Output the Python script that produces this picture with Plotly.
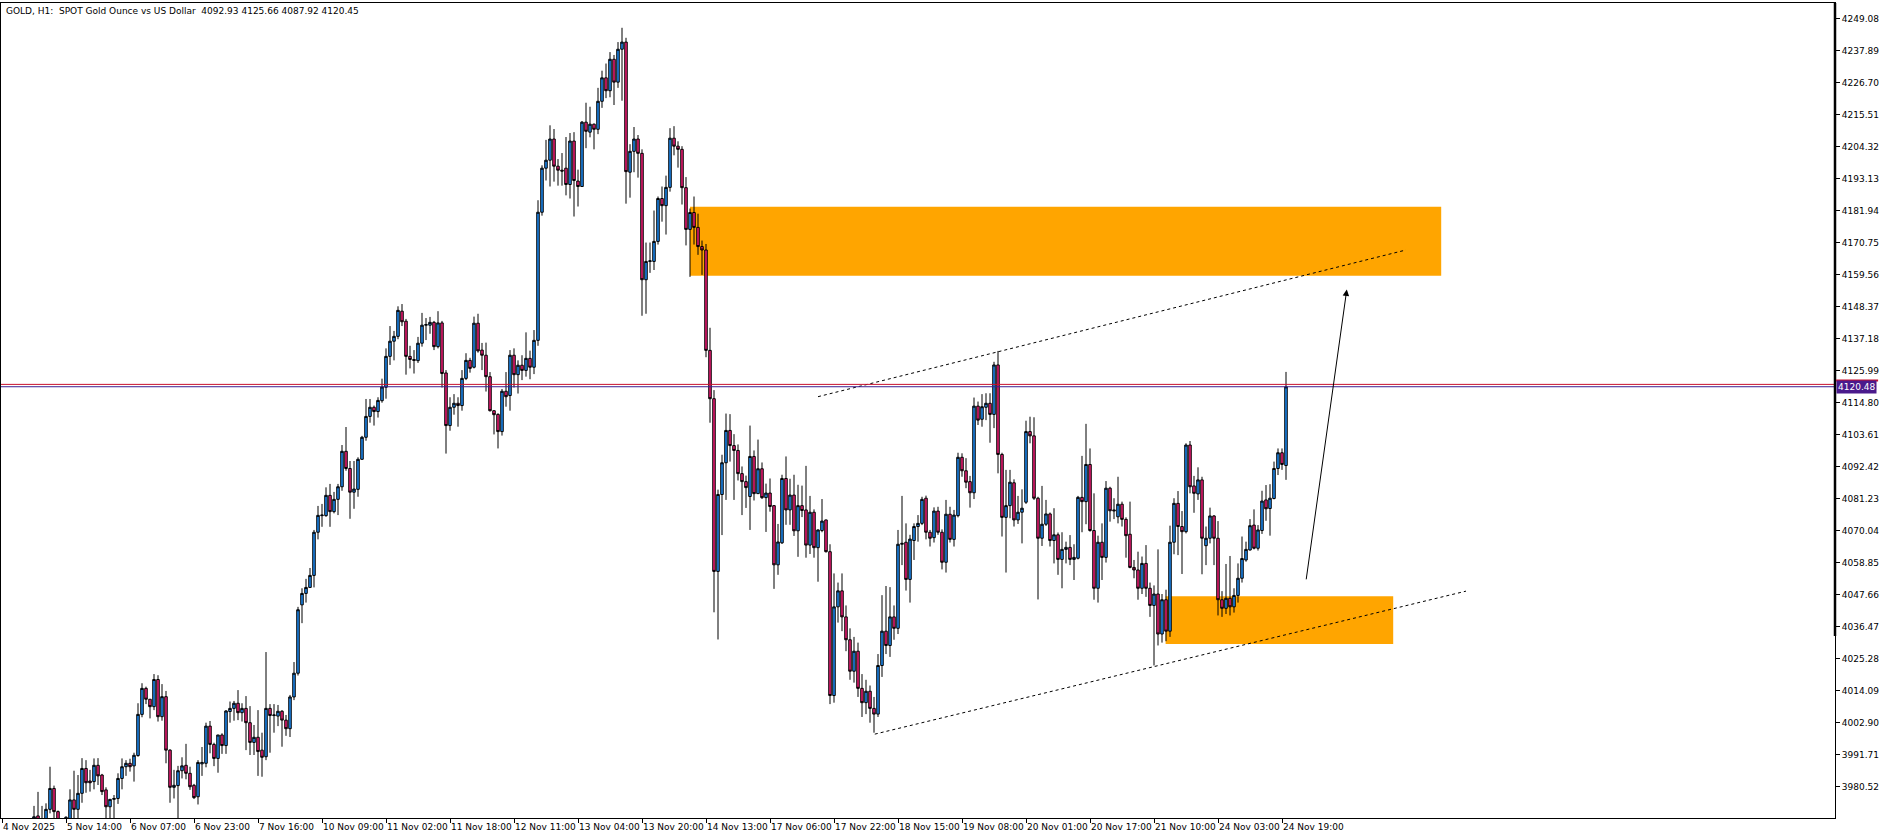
import plotly.graph_objects as go
from datetime import datetime, timedelta

# ---------------- data ----------------
SYMBOL_TITLE = "GOLD, H1:  SPOT Gold Ounce vs US Dollar  4092.93 4125.66 4087.92 4120.45"
FIRST_BAR_TIME = "2025-11-04 21:00"   # first bar on the chart (bar index 0)
FIRST_DATA_BAR = 8                    # first bar whose candle is visible

opens = [
    3966.0, 3970.4, 3966.0, 3964.0, 3972.7, 3980.0, 3971.9, 3966.0, 3962.0, 3968.0,
    3976.0, 3972.7, 3978.3, 3987.0, 3982.6, 3982.4, 3988.1, 3984.7, 3979.5, 3973.6,
    3976.2, 3976.5, 3983.5, 3987.6, 3988.8, 3987.9, 3991.5, 4005.9, 4015.0, 4011.2,
    4008.6, 4018.1, 4005.1, 4012.1, 3993.4, 3980.4, 3981.0, 3986.2, 3988.1, 3985.3,
    3981.1, 3977.1, 3988.6, 3988.8, 4001.8, 3995.4, 3990.5, 3998.7, 3995.0, 4006.9,
    4008.0, 4009.8, 4006.5, 4008.0, 4003.0, 3996.1, 3997.9, 3993.4, 3991.1, 4008.0,
    4005.5, 4005.3, 4007.0, 4003.9, 4000.9, 4012.0, 4020.3, 4044.2, 4048.2, 4050.3,
    4054.5, 4069.6, 4075.4, 4075.4, 4082.5, 4076.8, 4081.1, 4085.5, 4097.9, 4091.9,
    4083.6, 4084.6, 4095.1, 4102.8, 4110.1, 4113.3, 4111.8, 4115.6, 4120.3, 4131.1,
    4136.4, 4138.1, 4146.9, 4143.4, 4131.1, 4130.0, 4129.6, 4135.7, 4142.0, 4142.0,
    4143.0, 4134.5, 4142.8, 4125.3, 4106.9, 4113.3, 4114.7, 4113.9, 4123.4, 4129.7,
    4127.3, 4142.7, 4133.3, 4131.5, 4124.0, 4112.1, 4110.8, 4104.8, 4118.9, 4117.4,
    4131.5, 4124.7, 4128.0, 4126.2, 4130.4, 4127.3, 4136.7, 4181.5, 4196.9, 4199.7,
    4207.1, 4197.6, 4196.2, 4196.9, 4191.2, 4206.4, 4192.4, 4190.5, 4213.0, 4209.5,
    4212.3, 4210.5, 4220.3, 4228.5, 4224.0, 4235.0, 4227.0, 4238.5, 4241.0, 4195.5,
    4202.8, 4207.1, 4202.1, 4157.9, 4164.3, 4164.3, 4171.3, 4186.3, 4183.8, 4190.2,
    4207.4, 4204.6, 4203.5, 4190.1, 4175.5, 4181.4, 4176.2, 4169.5, 4168.3, 4133.2,
    4116.3, 4055.9, 4082.8, 4093.9, 4105.2, 4099.9, 4098.2, 4090.1, 4087.3, 4082.1,
    4096.1, 4083.1, 4091.8, 4081.7, 4083.3, 4078.9, 4058.2, 4065.9, 4088.4, 4077.4,
    4082.6, 4070.1, 4078.9, 4077.4, 4065.1, 4076.6, 4064.2, 4070.2, 4073.9, 4062.8,
    4012.5, 4043.5, 4049.1, 4040.0, 4032.0, 4021.0, 4028.0, 4015.0, 4010.0, 4014.0,
    4008.0, 4006.0, 4023.0, 4035.0, 4030.0, 4040.0, 4036.0, 4065.4, 4066.1, 4053.1,
    4066.7, 4071.6, 4072.7, 4081.5, 4069.6, 4067.7, 4077.0, 4069.6, 4059.1, 4075.9,
    4067.1, 4075.4, 4095.8, 4091.1, 4087.3, 4083.4, 4113.7, 4109.1, 4113.3, 4114.7,
    4110.8, 4128.1, 4096.8, 4074.8, 4078.9, 4086.9, 4073.9, 4076.6, 4080.1, 4104.8,
    4103.3, 4081.5, 4067.5, 4072.4, 4076.0, 4066.7, 4068.7, 4060.1, 4063.6, 4064.3,
    4060.1, 4060.5, 4081.8, 4080.3, 4093.3, 4070.2, 4050.0, 4066.1, 4060.8, 4085.0,
    4077.4, 4075.0, 4079.4, 4074.1, 4068.9, 4057.3, 4056.4, 4050.0, 4058.7, 4050.0,
    4044.0, 4048.0, 4034.0, 4046.0, 4035.0, 4066.1, 4079.7, 4071.6, 4069.8, 4100.1,
    4085.8, 4083.0, 4087.9, 4064.9, 4067.5, 4075.3, 4067.5, 4046.0, 4043.0, 4046.5,
    4043.5, 4047.5, 4053.5, 4059.9, 4063.4, 4072.1, 4064.0, 4070.2, 4080.9, 4077.9,
    4081.4, 4091.9, 4097.4, 4092.93,
]

highs = [
    3973.9, 3978.8, 3973.9, 3974.8, 3987.6, 3981.0, 3972.3, 3967.0, 3970.3, 3979.7,
    3986.2, 3984.7, 3990.6, 3989.9, 3986.5, 3990.5, 3990.6, 3985.1, 3980.4, 3976.2,
    3977.7, 3985.3, 3990.5, 3989.9, 3990.4, 3992.5, 4009.8, 4016.8, 4015.6, 4011.2,
    4020.0, 4019.6, 4016.5, 4014.1, 3993.7, 3986.5, 3987.9, 3990.9, 3995.6, 3987.6,
    3981.6, 3989.9, 3994.5, 4003.0, 4003.6, 3996.0, 3998.7, 3999.3, 4007.4, 4010.4,
    4010.6, 4014.4, 4009.8, 4012.3, 4008.8, 4002.2, 4007.4, 3999.5, 4027.7, 4009.5,
    4009.5, 4009.2, 4007.4, 4005.7, 4012.7, 4024.2, 4043.5, 4050.0, 4053.3, 4057.1,
    4070.4, 4078.8, 4079.5, 4085.3, 4086.5, 4083.7, 4086.5, 4100.1, 4106.4, 4094.5,
    4094.5, 4095.8, 4103.3, 4116.2, 4116.2, 4113.9, 4116.8, 4123.3, 4133.9, 4141.7,
    4140.0, 4148.6, 4149.4, 4144.2, 4134.8, 4133.3, 4137.9, 4146.3, 4144.5, 4144.9,
    4143.5, 4146.9, 4143.5, 4126.3, 4116.8, 4117.9, 4116.8, 4126.3, 4132.2, 4130.6,
    4145.0, 4146.0, 4135.8, 4135.9, 4125.6, 4112.3, 4111.2, 4119.7, 4125.6, 4133.3,
    4133.9, 4129.7, 4131.5, 4139.5, 4133.1, 4140.3, 4185.7, 4197.9, 4206.8, 4211.9,
    4210.6, 4200.1, 4202.2, 4207.8, 4209.2, 4209.5, 4196.4, 4213.4, 4219.8, 4218.4,
    4212.5, 4225.0, 4231.0, 4233.5, 4237.5, 4236.5, 4241.0, 4246.0, 4242.5, 4205.3,
    4211.3, 4208.5, 4203.5, 4170.9, 4170.9, 4182.1, 4187.0, 4190.5, 4194.3, 4210.9,
    4211.6, 4206.3, 4204.6, 4193.8, 4182.8, 4187.0, 4181.0, 4171.6, 4170.4, 4141.1,
    4119.3, 4084.5, 4096.7, 4111.1, 4110.9, 4103.9, 4100.3, 4092.6, 4089.4, 4106.9,
    4098.2, 4102.0, 4094.0, 4086.6, 4088.4, 4079.1, 4072.5, 4089.7, 4096.1, 4088.3,
    4089.7, 4086.2, 4085.9, 4092.8, 4082.3, 4077.6, 4070.6, 4081.2, 4074.0, 4065.4,
    4055.2, 4052.0, 4055.2, 4044.0, 4036.0, 4033.0, 4031.0, 4020.0, 4018.0, 4016.0,
    4012.0, 4027.0, 4047.6, 4050.8, 4050.4, 4044.0, 4070.4, 4082.3, 4072.7, 4068.7,
    4072.7, 4075.6, 4082.0, 4082.4, 4070.4, 4078.3, 4078.5, 4070.6, 4080.9, 4078.5,
    4077.4, 4097.4, 4097.2, 4095.5, 4089.3, 4116.7, 4115.3, 4117.9, 4118.2, 4118.2,
    4129.2, 4133.0, 4097.4, 4091.4, 4091.4, 4088.1, 4082.3, 4084.6, 4108.6, 4110.0,
    4109.8, 4082.0, 4085.8, 4080.9, 4076.5, 4078.0, 4069.5, 4069.6, 4066.3, 4068.6,
    4065.4, 4082.3, 4096.3, 4107.5, 4098.9, 4083.2, 4068.4, 4072.7, 4087.5, 4085.5,
    4081.5, 4089.0, 4080.3, 4074.8, 4080.3, 4059.9, 4062.8, 4061.1, 4065.1, 4052.0,
    4051.0, 4063.6, 4048.0, 4049.5, 4071.9, 4081.5, 4084.0, 4077.0, 4100.7, 4101.5,
    4089.3, 4092.3, 4089.0, 4071.6, 4078.2, 4075.6, 4073.5, 4049.0, 4058.5, 4061.3,
    4050.0, 4058.7, 4068.1, 4066.3, 4074.2, 4077.6, 4072.1, 4084.1, 4086.1, 4086.4,
    4094.3, 4098.9, 4098.9, 4125.66,
]

lows = [
    3962.0, 3962.0, 3960.0, 3961.0, 3971.3, 3968.0, 3962.0, 3957.0, 3958.0, 3965.0,
    3969.6, 3969.0, 3975.0, 3978.5, 3978.9, 3979.7, 3981.2, 3977.7, 3968.0, 3968.0,
    3968.0, 3974.6, 3979.7, 3984.4, 3985.9, 3982.4, 3991.1, 4004.9, 4009.5, 4004.5,
    4007.4, 4003.4, 4003.7, 3988.8, 3975.0, 3976.5, 3969.0, 3983.5, 3983.2, 3979.5,
    3976.3, 3974.4, 3984.4, 3987.4, 3992.3, 3987.8, 3985.5, 3992.1, 3992.1, 4003.0,
    4003.7, 4003.9, 4003.4, 3993.4, 3991.7, 3991.7, 3984.4, 3984.1, 3989.9, 3992.5,
    3999.5, 4001.8, 3994.6, 3998.4, 3998.0, 4010.9, 4019.5, 4037.8, 4045.0, 4050.1,
    4050.3, 4067.1, 4071.5, 4075.0, 4071.5, 4076.2, 4075.6, 4084.1, 4091.1, 4074.3,
    4077.8, 4082.0, 4094.9, 4101.6, 4107.9, 4106.9, 4109.7, 4114.9, 4116.3, 4128.1,
    4129.7, 4137.1, 4141.7, 4124.7, 4126.9, 4125.1, 4128.8, 4134.5, 4136.8, 4139.0,
    4133.3, 4133.9, 4120.2, 4097.1, 4105.1, 4110.7, 4106.5, 4112.1, 4122.8, 4125.4,
    4126.9, 4132.4, 4126.3, 4118.8, 4111.8, 4103.8, 4098.9, 4103.4, 4113.5, 4112.1,
    4120.2, 4118.1, 4122.8, 4124.0, 4123.1, 4124.9, 4134.8, 4180.3, 4192.6, 4190.5,
    4192.2, 4190.8, 4190.8, 4187.4, 4186.3, 4180.0, 4183.5, 4190.5, 4203.9, 4207.7,
    4203.5, 4208.8, 4218.0, 4221.4, 4221.7, 4219.0, 4225.0, 4220.5, 4184.5, 4186.6,
    4195.5, 4193.6, 4145.3, 4146.0, 4160.3, 4161.3, 4170.2, 4178.2, 4173.7, 4188.7,
    4201.4, 4197.1, 4184.2, 4169.9, 4158.9, 4170.2, 4166.6, 4159.6, 4130.8, 4107.9,
    4041.6, 4032.1, 4068.6, 4080.9, 4094.3, 4080.9, 4087.7, 4075.6, 4078.1, 4070.4,
    4080.7, 4083.1, 4081.2, 4069.7, 4076.8, 4049.8, 4054.7, 4065.5, 4072.2, 4072.2,
    4068.3, 4061.0, 4074.9, 4060.7, 4062.0, 4060.7, 4052.3, 4069.6, 4062.5, 4009.5,
    4010.0, 4038.0, 4035.0, 4028.0, 4018.0, 4017.0, 4012.0, 4005.0, 4006.0, 4003.0,
    3999.5, 4005.0, 4019.0, 4027.0, 4026.0, 4032.0, 4034.0, 4058.1, 4049.2, 4045.0,
    4059.9, 4066.3, 4072.1, 4067.1, 4064.6, 4066.0, 4068.7, 4056.6, 4055.5, 4066.0,
    4064.6, 4074.8, 4089.0, 4085.0, 4078.2, 4081.2, 4107.1, 4106.5, 4108.8, 4100.9,
    4106.0, 4090.2, 4068.1, 4055.5, 4074.5, 4071.6, 4072.5, 4065.7, 4079.5, 4100.7,
    4080.9, 4046.1, 4064.8, 4071.8, 4064.6, 4058.7, 4054.7, 4050.0, 4058.7, 4058.1,
    4052.9, 4060.1, 4069.6, 4072.4, 4069.8, 4046.0, 4045.0, 4052.9, 4059.0, 4073.3,
    4074.2, 4072.7, 4071.6, 4060.7, 4057.0, 4053.5, 4046.0, 4048.0, 4047.0, 4040.0,
    4023.0, 4030.0, 4031.0, 4031.5, 4033.0, 4061.9, 4061.6, 4055.0, 4069.2, 4083.2,
    4076.4, 4080.9, 4054.9, 4058.1, 4065.7, 4058.1, 4040.5, 4040.0, 4041.0, 4040.5,
    4041.5, 4045.0, 4052.0, 4059.3, 4063.2, 4063.6, 4063.2, 4069.0, 4073.6, 4068.4,
    4081.1, 4089.6, 4091.4, 4087.92,
]

closes = [
    3970.1, 3966.0, 3964.0, 3972.7, 3980.0, 3971.9, 3966.0, 3962.0, 3969.9, 3976.0,
    3972.7, 3978.3, 3987.0, 3982.0, 3982.0, 3988.1, 3984.4, 3978.9, 3973.6, 3976.2,
    3976.5, 3983.5, 3987.6, 3988.8, 3987.6, 3991.6, 4005.9, 4015.0, 4011.2, 4008.6,
    4018.1, 4005.1, 4012.1, 3993.4, 3980.4, 3981.1, 3986.2, 3987.9, 3985.3, 3980.6,
    3976.8, 3989.1, 3989.1, 4001.8, 3995.4, 3990.5, 3998.7, 3995.0, 4007.1, 4008.0,
    4009.8, 4006.5, 4008.0, 4003.0, 3996.1, 3997.9, 3992.9, 3990.9, 4008.0, 4005.5,
    4005.7, 4007.0, 4003.9, 4000.9, 4012.0, 4020.3, 4042.5, 4048.2, 4050.3, 4054.5,
    4069.6, 4075.5, 4075.6, 4082.5, 4076.8, 4081.1, 4085.5, 4097.9, 4091.9, 4083.6,
    4084.7, 4095.1, 4102.8, 4110.1, 4113.3, 4111.8, 4115.7, 4120.4, 4131.1, 4136.4,
    4138.1, 4147.2, 4143.2, 4131.1, 4130.0, 4129.7, 4135.7, 4142.0, 4142.2, 4143.0,
    4134.5, 4142.8, 4125.1, 4106.9, 4113.3, 4114.7, 4113.9, 4123.4, 4129.7, 4126.9,
    4142.7, 4133.0, 4131.5, 4124.0, 4112.1, 4110.7, 4104.8, 4118.9, 4117.0, 4131.5,
    4124.7, 4128.0, 4126.2, 4130.4, 4127.3, 4136.7, 4181.5, 4196.9, 4199.7, 4207.1,
    4197.6, 4196.2, 4195.9, 4191.2, 4206.4, 4192.6, 4190.5, 4213.0, 4209.8, 4212.3,
    4210.5, 4220.3, 4228.5, 4224.0, 4235.0, 4227.0, 4238.5, 4241.0, 4195.7, 4202.8,
    4207.1, 4202.1, 4157.9, 4164.3, 4164.5, 4171.3, 4186.3, 4183.8, 4190.2, 4207.4,
    4204.6, 4203.5, 4190.1, 4175.5, 4181.4, 4176.2, 4169.5, 4168.3, 4133.2, 4116.3,
    4055.9, 4082.8, 4093.9, 4105.2, 4099.9, 4098.2, 4090.1, 4087.3, 4085.2, 4096.1,
    4083.1, 4091.8, 4081.7, 4083.3, 4078.6, 4058.2, 4066.2, 4088.4, 4077.4, 4082.6,
    4070.1, 4078.9, 4077.2, 4065.1, 4076.6, 4064.2, 4070.4, 4073.5, 4062.8, 4012.5,
    4043.5, 4049.1, 4040.0, 4032.0, 4021.0, 4028.0, 4015.0, 4010.0, 4014.0, 4008.0,
    4006.0, 4023.0, 4035.0, 4030.0, 4040.0, 4036.0, 4065.4, 4065.7, 4053.1, 4067.2,
    4071.6, 4072.7, 4081.1, 4069.6, 4067.5, 4077.0, 4069.6, 4059.1, 4075.9, 4067.1,
    4075.6, 4095.8, 4091.1, 4087.1, 4083.4, 4113.7, 4108.8, 4113.5, 4114.7, 4110.8,
    4128.1, 4096.8, 4074.8, 4078.9, 4087.1, 4073.9, 4076.6, 4078.0, 4104.8, 4103.3,
    4081.5, 4067.5, 4072.4, 4076.0, 4066.7, 4068.7, 4060.1, 4063.6, 4064.3, 4060.1,
    4060.8, 4081.8, 4080.3, 4093.3, 4070.2, 4050.0, 4066.1, 4060.8, 4085.0, 4077.1,
    4077.1, 4079.4, 4074.1, 4068.4, 4057.3, 4056.4, 4050.0, 4058.7, 4050.0, 4044.0,
    4048.0, 4034.0, 4046.0, 4035.0, 4066.1, 4079.7, 4071.6, 4069.8, 4100.1, 4085.5,
    4083.2, 4087.9, 4067.5, 4067.5, 4075.3, 4067.5, 4046.0, 4043.0, 4046.5, 4043.5,
    4047.5, 4053.5, 4060.4, 4063.6, 4071.9, 4064.0, 4070.4, 4080.5, 4077.8, 4081.5,
    4091.9, 4097.4, 4093.3, 4120.45,
]

tick_times = [
    "2025-11-04 21:00", "2025-11-05 14:00", "2025-11-06 07:00", "2025-11-06 23:00",
    "2025-11-07 16:00", "2025-11-10 09:00", "2025-11-11 02:00", "2025-11-11 18:00",
    "2025-11-12 11:00", "2025-11-13 04:00", "2025-11-13 20:00", "2025-11-14 13:00",
    "2025-11-17 06:00", "2025-11-17 22:00", "2025-11-18 15:00", "2025-11-19 08:00",
    "2025-11-20 01:00", "2025-11-20 17:00", "2025-11-21 10:00", "2025-11-24 03:00",
    "2025-11-24 19:00",
]
tick_labels = [
    "4 Nov 2025", "5 Nov 14:00", "6 Nov 07:00", "6 Nov 23:00", "7 Nov 16:00",
    "10 Nov 09:00", "11 Nov 02:00", "11 Nov 18:00", "12 Nov 11:00", "13 Nov 04:00",
    "13 Nov 20:00", "14 Nov 13:00", "17 Nov 06:00", "17 Nov 22:00", "18 Nov 15:00",
    "19 Nov 08:00", "20 Nov 01:00", "20 Nov 17:00", "21 Nov 10:00", "24 Nov 03:00",
    "24 Nov 19:00",
]
price_ticks = [
    3980.52, 3991.71, 4002.90, 4014.09, 4025.28, 4036.47, 4047.66, 4058.85, 4070.04,
    4081.23, 4092.42, 4103.61, 4114.80, 4125.99, 4137.18, 4148.37, 4159.56, 4170.75,
    4181.94, 4193.13, 4204.32, 4215.51, 4226.70, 4237.89, 4249.08,
]

BID_PRICE = 4120.48
ASK_PRICE = 4121.30

# drawn objects (bar index, price)
upper_zone = dict(x0=172.0, x1=359.8, y0=4159.3, y1=4183.4)
lower_zone = dict(x0=290.9, x1=347.8, y0=4030.5, y1=4047.2)
upper_trend = dict(x0=204.0, y0=4117.0, x1=351.0, y1=4168.3)
lower_trend = dict(x0=218.2, y0=3999.0, x1=366.0, y1=4049.0)
arrow_tail = (326.0, 4052.6)
arrow_head = (336.2, 4154.5)

assert len(opens) == len(highs) == len(lows) == len(closes)

# ---------------- time axis (H1 bars, no hour 0, no weekends) ----------------
def trading_bars(start, n):
    t = start
    out = []
    while len(out) < n:
        if t.weekday() < 5 and t.hour != 0:
            out.append(t)
        t += timedelta(hours=1)
    return out

bar_times = trading_bars(datetime.strptime(FIRST_BAR_TIME, "%Y-%m-%d %H:%M"), 480)
bar_index = {t: i for i, t in enumerate(bar_times)}
tick_pos = [bar_index[datetime.strptime(s, "%Y-%m-%d %H:%M")] for s in tick_times]
xs = list(range(FIRST_DATA_BAR, FIRST_DATA_BAR + len(opens)))

# ---------------- figure ----------------
BLUE = "#1E8CF5"
PINK = "#F01C76"
FONT = "DejaVu Sans"

fig = go.Figure()
fig.add_trace(go.Candlestick(
    x=xs, open=opens, high=highs, low=lows, close=closes,
    increasing=dict(fillcolor=BLUE, line=dict(color="black", width=1)),
    decreasing=dict(fillcolor=PINK, line=dict(color="black", width=1)),
    whiskerwidth=0, hoverinfo="skip", showlegend=False,
))

shapes = []
for z in (upper_zone, lower_zone):
    shapes.append(dict(type="rect", xref="x", yref="y", layer="below",
                       fillcolor="#FFA500", line=dict(width=0), **z))
for tl in (upper_trend, lower_trend):
    shapes.append(dict(type="line", xref="x", yref="y", layer="above",
                       line=dict(color="black", width=1, dash="3px,3px"), **tl))
shapes.append(dict(type="line", xref="paper", yref="y", x0=0, x1=1,
                   y0=ASK_PRICE, y1=ASK_PRICE, line=dict(color="#C8102E", width=1)))
shapes.append(dict(type="line", xref="paper", yref="y", x0=0, x1=1,
                   y0=BID_PRICE, y1=BID_PRICE, line=dict(color="#3B1F8F", width=1)))
# thick section of the price scale line
shapes.append(dict(type="line", xref="paper", yref="paper", x0=1, x1=1,
                   y0=0.2234, y1=1, line=dict(color="black", width=2.5)))
# red ask-label strip above the bid label
shapes.append(dict(type="line", xref="paper", yref="y", x0=1.0006, x1=1.0235,
                   y0=4122.7, y1=4122.7, line=dict(color="#C8102E", width=2)))

annotations = [
    dict(text=SYMBOL_TITLE, xref="paper", yref="paper", x=0, y=1,
         xanchor="left", yanchor="top", xshift=3, yshift=-1, showarrow=False,
         font=dict(family=FONT, size=9, color="black")),
    dict(text=f"{BID_PRICE:.2f}", xref="paper", yref="y", x=1, y=BID_PRICE,
         xanchor="left", yanchor="middle", xshift=1, showarrow=False,
         bgcolor="#4A1A8C", borderpad=1, font=dict(family=FONT, size=9, color="white")),
    dict(text="", x=arrow_head[0], y=arrow_head[1], ax=arrow_tail[0], ay=arrow_tail[1],
         xref="x", yref="y", axref="x", ayref="y", showarrow=True,
         arrowhead=2, arrowsize=1.3, arrowwidth=1, arrowcolor="black"),
]

fig.update_layout(
    width=1888, height=839,
    margin=dict(l=1, r=53, t=3, b=21, autoexpand=False),
    paper_bgcolor="white", plot_bgcolor="white",
    font=dict(family=FONT, size=9, color="black"),
    showlegend=False, boxgap=0.1,
    shapes=shapes, annotations=annotations,
    xaxis=dict(
        type="linear", range=[-0.25, 458.25], rangeslider=dict(visible=False),
        tickmode="array", tickvals=tick_pos, ticktext=tick_labels,
        ticks="outside", ticklen=4, tickcolor="black", tickwidth=1,
        ticklabelposition="outside right", tickangle=0, automargin=False,
        showgrid=False, zeroline=False, showline=True, mirror=True,
        linecolor="black", linewidth=1,
        tickfont=dict(family=FONT, size=9, color="black"),
    ),
    yaxis=dict(
        side="right", range=[3969.67, 4254.67], automargin=False,
        tickmode="array", tickvals=price_ticks,
        ticktext=[f"{v:.2f}" for v in price_ticks],
        ticks="outside", ticklen=4, tickcolor="black", tickwidth=1,
        showgrid=False, zeroline=False, showline=True, mirror=True,
        linecolor="black", linewidth=1,
        tickfont=dict(family=FONT, size=9, color="black"),
    ),
)

fig.write_html(
    "out.html",
    config={"displayModeBar": False},
    post_script="document.body.style.margin='0px';document.body.style.overflow='hidden';",
)
